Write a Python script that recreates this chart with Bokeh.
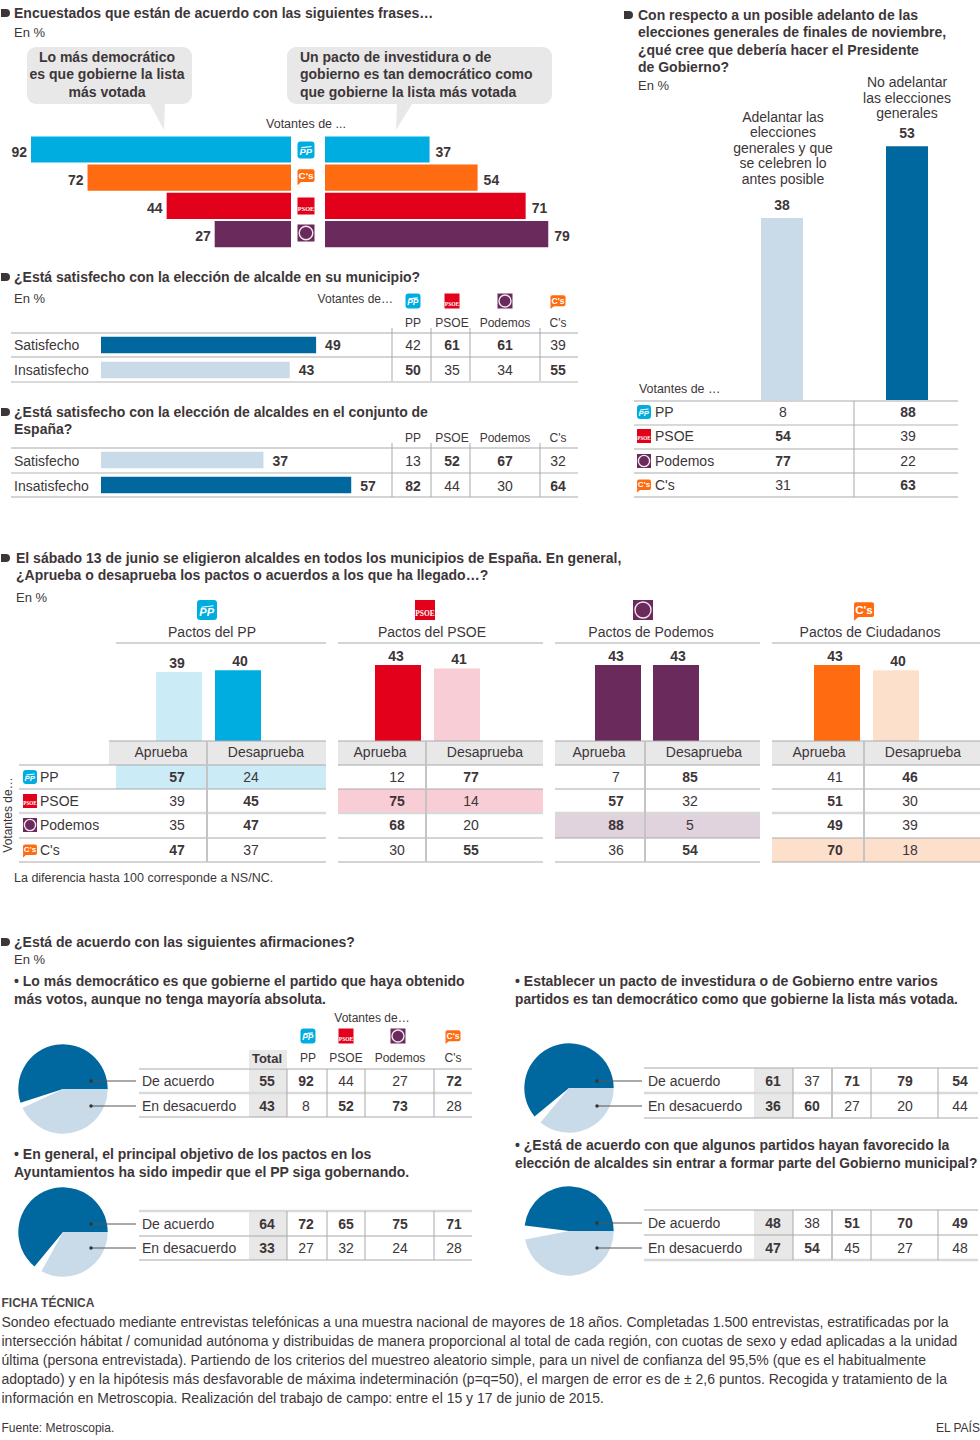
import math
from bokeh.plotting import figure
from bokeh.models import Range1d
from bokeh.core.properties import value
from bokeh.embed import file_html
from bokeh.resources import INLINE

# ---------- data ----------
butterfly_parties = ["PP", "C's", "PSOE", "Podemos"]
lista_votada = [92, 72, 44, 27]
pacto_democratico = [37, 54, 71, 79]

party_headers = ["PP", "PSOE", "Podemos", "C's"]
sat_labels = ["Satisfecho", "Insatisfecho"]
muni_totals = [49, 43]
muni_rows = [[42, 61, 61, 39], [50, 35, 34, 55]]
muni_bold = [[0, 1, 1, 0], [1, 0, 0, 1]]
spain_totals = [37, 57]
spain_rows = [[13, 52, 67, 32], [82, 44, 30, 64]]
spain_bold = [[0, 1, 1, 0], [1, 0, 0, 1]]

adelanto_totals = [38, 53]
adelanto_rows = [[8, 88], [54, 39], [77, 22], [31, 63]]
adelanto_bold = [[0, 1], [1, 0], [1, 0], [0, 1]]

pact_titles = ["Pactos del PP", "Pactos del PSOE", "Pactos de Podemos", "Pactos de Ciudadanos"]
pact_cols = ["Aprueba", "Desaprueba"]
pact_totals = [[39, 40], [43, 41], [43, 43], [43, 40]]
pact_rows = [
    [[57, 24], [39, 45], [35, 47], [47, 37]],
    [[12, 77], [75, 14], [68, 20], [30, 55]],
    [[7, 85], [57, 32], [88, 5], [36, 54]],
    [[41, 46], [51, 30], [49, 39], [70, 18]],
]
pact_bold = [
    [[1, 0], [0, 1], [0, 1], [1, 0]],
    [[0, 1], [1, 0], [1, 0], [0, 1]],
    [[0, 1], [1, 0], [1, 0], [0, 1]],
    [[0, 1], [1, 0], [1, 0], [1, 0]],
]

agree_labels = ["De acuerdo", "En desacuerdo"]
q1_rows = [[55, 92, 44, 27, 72], [43, 8, 52, 73, 28]]
q1_bold = [[1, 1, 0, 0, 1], [1, 0, 1, 1, 0]]
q2_rows = [[61, 37, 71, 79, 54], [36, 60, 27, 20, 44]]
q2_bold = [[1, 0, 1, 1, 1], [1, 1, 0, 0, 0]]
q3_rows = [[64, 72, 65, 75, 71], [33, 27, 32, 24, 28]]
q3_bold = [[1, 1, 1, 1, 1], [1, 0, 0, 0, 0]]
q4_rows = [[48, 38, 51, 70, 49], [47, 54, 45, 27, 48]]
q4_bold = [[1, 0, 1, 1, 1], [1, 1, 0, 0, 0]]

ficha = [
    "Sondeo efectuado mediante entrevistas telefónicas a una muestra nacional de mayores de 18 años. Completadas 1.500 entrevistas, estratificadas por la",
    "intersección hábitat / comunidad autónoma y distribuidas de manera proporcional al total de cada región, con cuotas de sexo y edad aplicadas a la unidad",
    "última (persona entrevistada). Partiendo de los criterios del muestreo aleatorio simple, para un nivel de confianza del 95,5% (que es el habitualmente",
    "adoptado) y en la hipótesis más desfavorable de máxima indeterminación (p=q=50), el margen de error es de ± 2,6 puntos. Recogida y tratamiento de la",
    "información en Metroscopia. Realización del trabajo de campo: entre el 15 y 17 de junio de 2015.",
]

# ---------- style ----------
W, H = 980, 1440
OX, OY = 0.5, 0.5
FONT = "Liberation Sans"
TXT = "#3d3639"
C = {"PP": "#00ade1", "C's": "#ff6b10", "PSOE": "#e2001a", "Podemos": "#6a2a5b"}
LIGHT = {"PP": "#cbecf7", "C's": "#fde0cc", "PSOE": "#f9cdd6", "Podemos": "#e0d3de"}
DARK = "#00689f"
PALE = "#c9dbe9"
LINE = "#a9a9a9"
THICK = "#d9d9d9"
BAND = "#e8e8e8"

p = figure(width=W, height=H, x_range=Range1d(OX, W + OX), y_range=Range1d(H + OY, OY),
           x_axis_type=None, y_axis_type=None, toolbar_location=None,
           output_backend="svg", min_border=0, outline_line_color=None)

_n = [0]
def sx(x0, k):
    _n[0] += 1
    name = f"sx{_n[0]}"
    x0 -= OX
    p.extra_x_ranges[name] = Range1d((0 - x0) / k, (W - x0) / k)
    return name

def sy(y0, k):
    _n[0] += 1
    name = f"sy{_n[0]}"
    y0 -= OY
    p.extra_y_ranges[name] = Range1d((H - y0) / k, (0 - y0) / k)
    return name

def T(x, y, s, size=14, bold=False, align="left", color=TXT, angle=0, italic=False, font=FONT):
    style = "bold" if bold else ("italic" if italic else "normal")
    if bold and italic:
        style = "bold italic"
    p.text([x], [y], text=[s], text_font=value(font), text_font_size=f"{size}px",
           text_font_style=style, text_align=align, text_baseline="middle",
           text_color=color, angle=angle)

def hline(x0, x1, y, color=LINE, w=1):
    p.segment([x0], [y], [x1], [y], line_color=color, line_width=w)

def vline(x, y0, y1, color=LINE, w=1):
    p.segment([x], [y0], [x], [y1], line_color=color, line_width=w)

def box(l, r, t, b, color, radius=0):
    kw = {"border_radius": radius} if radius else {}
    p.quad(left=[l], right=[r], top=[t], bottom=[b], fill_color=color, line_color=None, **kw)

def bullet(x, y):
    box(x, x + 5, y - 4, y + 4, TXT)
    p.scatter([x + 5], [y], size=8, marker="circle", fill_color=TXT, line_color=None)

def logo(party, cx, cy, s=16):
    h = s / 2
    if party == "PP":
        box(cx - h, cx + h, cy - h, cy + h, C["PP"], radius=3)
        T(cx - 0.3, cy + s * 0.1, "PP", size=s * 0.55, bold=True, italic=True, align="center", color="white")
        p.segment([cx - h * 0.55], [cy - h * 0.28], [cx + h * 0.65], [cy - h * 0.42], line_color="white", line_width=1.1)
    elif party == "C's":
        box(cx - h, cx + h, cy - h * 0.78, cy + h * 0.7, C["C's"], radius=2)
        p.patch([cx - h, cx - h + s * 0.28, cx - h], [cy + h * 0.6, cy + h * 0.6, cy + h * 1.08],
                fill_color=C["C's"], line_color=None)
        T(cx, cy - h * 0.05, "C's", size=s * 0.58, bold=True, align="center", color="white")
    elif party == "PSOE":
        box(cx - h, cx + h, cy - h, cy + h, C["PSOE"])
        T(cx, cy + h * 0.35, "PSOE", size=s * 0.37, bold=True, align="center", color="white", font="Liberation Sans Narrow")
    else:
        box(cx - h, cx + h, cy - h, cy + h, C["Podemos"])
        p.scatter([cx], [cy], size=s * 0.8, marker="circle", fill_color=C["Podemos"],
                  line_color="#efe6ee", line_width=1.4)

def cells(xs, ys, rows, bold, size=14):
    for j, y in enumerate(ys):
        for i, x in enumerate(xs):
            T(x, y, str(rows[j][i]), size=size, bold=bool(bold[j][i]), align="center")

# ---------- 1. butterfly ----------
bullet(1, 13)
T(14, 13, "Encuestados que están de acuerdo con las siguientes frases…", bold=True)
T(14, 32, "En %", size=13)
box(27, 192, 47, 104, BAND, radius=9)
box(287, 552, 47, 104, BAND, radius=9)
p.patch([150, 165, 164], [104, 104, 130], fill_color=BAND, line_color=None)
p.patch([397, 412, 396], [104, 104, 130], fill_color=BAND, line_color=None)
for y, s in zip([57, 74, 92], ["Lo más democrático", "es que gobierne la lista", "más votada"]):
    T(107, y, s, bold=True, align="center")
for y, s in zip([57, 74, 92], ["Un pacto de investidura o de", "gobierno es tan democrático como", "que gobierne la lista más votada"]):
    T(300, y, s, bold=True)
T(306, 124, "Votantes de ...", size=12.5, align="center")
by = sy(149.5, 28.2)
lx = sx(291, -2.826)
rx = sx(325, 2.826)
rows_idx = list(range(len(butterfly_parties)))
colors = [C[b] for b in butterfly_parties]
p.hbar(y=rows_idx, left=0, right=lista_votada, height=0.93, fill_color=colors, line_color=None,
       x_range_name=lx, y_range_name=by)
p.hbar(y=rows_idx, left=0, right=pacto_democratico, height=0.93, fill_color=colors, line_color=None,
       x_range_name=rx, y_range_name=by)
p.text(x=lista_votada, y=rows_idx, text=[str(v) for v in lista_votada], x_range_name=lx, y_range_name=by,
       x_offset=-4, y_offset=2, text_align="right", text_baseline="middle", text_font=value(FONT),
       text_font_style="bold", text_font_size="14px", text_color=TXT)
p.text(x=pacto_democratico, y=rows_idx, text=[str(v) for v in pacto_democratico], x_range_name=rx, y_range_name=by,
       x_offset=6, y_offset=2, text_align="left", text_baseline="middle", text_font=value(FONT),
       text_font_style="bold", text_font_size="14px", text_color=TXT)
for b, y in zip(butterfly_parties, [150, 176, 206, 233]):
    logo(b, 306, y, 17)

# ---------- 2/3. satisfaction ----------
cols = [413, 452, 505, 558]
verts = [392, 431, 470, 540]
bullet(1, 277)
T(14, 277, "¿Está satisfecho con la elección de alcalde en su municipio?", bold=True)
T(14, 298, "En %", size=13)
T(393, 299, "Votantes de…", size=12, align="right")
for party, x in zip(party_headers, cols):
    logo(party, x, 301, 15)
    T(x, 323, party, size=12, align="center")
hline(11, 578, 333)
hline(11, 578, 357)
hline(11, 578, 382, THICK, 2)
for x in verts:
    vline(x, 328, 381)
sx1 = sx(101, 4.39)
sy1 = sy(345, 25)
p.hbar(y=[0, 1], left=0, right=muni_totals, height=0.66, fill_color=[DARK, PALE], line_color=None,
       x_range_name=sx1, y_range_name=sy1)
p.text(x=muni_totals, y=[0, 1], text=[str(v) for v in muni_totals], x_range_name=sx1, y_range_name=sy1,
       x_offset=9, text_align="left", text_baseline="middle", text_font=value(FONT), text_font_style="bold",
       text_font_size="14px", text_color=TXT)
for lab, y in zip(sat_labels, [345, 370]):
    T(14, y, lab)
cells(cols, [345, 370], muni_rows, muni_bold)

bullet(1, 412)
T(14, 412, "¿Está satisfecho con la elección de alcaldes en el conjunto de", bold=True)
T(14, 429, "España?", bold=True)
for party, x in zip(party_headers, cols):
    T(x, 438, party, size=12, align="center")
hline(11, 578, 448)
hline(11, 578, 473, THICK, 2)
hline(11, 578, 497)
for x in verts:
    vline(x, 443, 497)
sx2 = sx(101, 4.39)
sy2 = sy(460, 25)
p.hbar(y=[0, 1], left=0, right=spain_totals, height=0.66, fill_color=[PALE, DARK], line_color=None,
       x_range_name=sx2, y_range_name=sy2)
p.text(x=spain_totals, y=[0, 1], text=[str(v) for v in spain_totals], x_range_name=sx2, y_range_name=sy2,
       x_offset=9, y_offset=1, text_align="left", text_baseline="middle", text_font=value(FONT), text_font_style="bold",
       text_font_size="14px", text_color=TXT)
for lab, y in zip(sat_labels, [461, 486]):
    T(14, y, lab)
cells(cols, [461, 486], spain_rows, spain_bold)

# ---------- 4. adelanto ----------
bullet(624, 15)
for y, s in zip([15, 32, 50, 67], ["Con respecto a un posible adelanto de las",
                                   "elecciones generales de finales de noviembre,",
                                   "¿qué cree que debería hacer el Presidente",
                                   "de Gobierno?"]):
    T(638, y, s, bold=True)
T(638, 85, "En %", size=13)
for y, s in zip([117, 132, 148, 163, 179], ["Adelantar las", "elecciones", "generales y que", "se celebren lo", "antes posible"]):
    T(783, y, s, align="center")
for y, s in zip([82, 98, 113], ["No adelantar", "las elecciones", "generales"]):
    T(907, y, s, align="center")
ax = sx(782, 125)
ay = sy(400, -4.79)
p.vbar(x=[0, 1], bottom=0, top=adelanto_totals, width=0.336, fill_color=[PALE, DARK], line_color=None,
       x_range_name=ax, y_range_name=ay)
p.text(x=[0, 1], y=adelanto_totals, text=[str(v) for v in adelanto_totals], x_range_name=ax, y_range_name=ay,
       y_offset=-13, text_align="center", text_baseline="middle", text_font=value(FONT), text_font_style="bold",
       text_font_size="14px", text_color=TXT)
T(639, 389, "Votantes de …", size=12.4)
hline(634, 958, 401)
hline(634, 958, 425, THICK, 2)
hline(634, 958, 449)
hline(634, 958, 473)
hline(634, 958, 497)
vline(854, 401, 497)
ad_ys = [412, 436, 461, 485]
ad_party = ["PP", "PSOE", "Podemos", "C's"]
for party, y in zip(ad_party, ad_ys):
    logo(party, 644, y, 14)
    T(655, y, party)
cells([783, 908], ad_ys, adelanto_rows, adelanto_bold)

# ---------- 5. pactos ----------
bullet(1, 558)
T(16, 558, "El sábado 13 de junio se eligieron alcaldes en todos los municipios de España. En general,", bold=True)
T(16, 575, "¿Aprueba o desaprueba los pactos o acuerdos a los que ha llegado…?", bold=True)
T(16, 597, "En %", size=13)
T(8, 815, "Votantes de…", size=12, angle=math.pi / 2, align="center")
panels = [
    dict(party="PP", l=116, band_l=109, r=326, logo=207, tx=212, bar0=179, k=59, v=207, h=[161, 266], val=[177, 251], shade=[1, 0]),
    dict(party="PSOE", l=338, band_l=338, r=543, logo=425, tx=432, bar0=398, k=59, v=426, h=[380, 485], val=[397, 471], shade=[0, 1]),
    dict(party="Podemos", l=555, band_l=555, r=760, logo=643, tx=651, bar0=618, k=58, v=645, h=[599, 704], val=[616, 690], shade=[0, 0]),
    dict(party="C's", l=772, band_l=772, r=981, logo=864, tx=870, bar0=837, k=59, v=864, h=[819, 923], val=[835, 910], shade=[0, 1]),
]
row_ys = [777, 801, 825, 850]
row_lines = [765, 789, 813, 838, 862]
for i, pn in enumerate(panels):
    party = pn["party"]
    hi = ad_party.index(party)
    box(pn["l"], pn["r"], row_lines[hi], row_lines[hi + 1], LIGHT[party])
    box(pn["band_l"], pn["r"], 741, 765, BAND)
    logo(party, pn["logo"], 610, 20)
    T(pn["tx"], 632, pact_titles[i], align="center")
    hline(pn["l"], pn["r"], 643)
    bxs = sx(pn["bar0"], pn["k"])
    bys = sy(741, -1.77)
    p.vbar(x=[0, 1], bottom=0, top=pact_totals[i], width=46 / pn["k"],
           fill_color=[LIGHT[party] if f else C[party] for f in pn["shade"]], line_color=None,
           x_range_name=bxs, y_range_name=bys)
    for b_i, off in zip([0, 1], [-2, 2]):
        p.text(x=[b_i], y=[pact_totals[i][b_i]], text=[str(pact_totals[i][b_i])], x_range_name=bxs, y_range_name=bys,
               x_offset=off, y_offset=-9, text_align="center", text_baseline="middle", text_font=value(FONT),
               text_font_style="bold", text_font_size="14px", text_color=TXT)
    for name, x in zip(pact_cols, pn["h"]):
        T(x, 752, name, align="center")
    x0 = 19 if i == 0 else pn["band_l"]
    for n, y in enumerate(row_lines):
        if n == 2:
            hline(x0, pn["r"], y, THICK, 2.5)
        else:
            hline(x0, pn["r"], y)
    hline(pn["band_l"], pn["r"], 741)
    vline(pn["v"], 741, 862, "#c4c4c4", 2)
    cells(pn["val"], row_ys, pact_rows[i], pact_bold[i])
for party, y in zip(ad_party, row_ys):
    logo(party, 30, y, 14)
    T(40, y, party)
T(14, 878, "La diferencia hasta 100 corresponde a NS/NC.", size=12.5)

# ---------- 6. pies and tables ----------
bullet(1, 942)
T(14, 942, "¿Está de acuerdo con las siguientes afirmaciones?", bold=True)
T(14, 959, "En %", size=13)
for y, s in zip([981, 999], ["• Lo más democrático es que gobierne el partido que haya obtenido",
                             "más votos, aunque no tenga mayoría absoluta."]):
    T(14, y, s, bold=True)
T(515, 981, "• Establecer un pacto de investidura o de Gobierno entre varios", bold=True)
T(515, 999, "partidos es tan democrático como que gobierne la lista más votada.", bold=True, size=13.72)
for y, s in zip([1154, 1172], ["• En general, el principal objetivo de los pactos en los",
                               "Ayuntamientos ha sido impedir que el PP siga gobernando."]):
    T(14, y, s, bold=True)
T(515, 1145, "• ¿Está de acuerdo con que algunos partidos hayan favorecido la", bold=True)
T(515, 1163, "elección de alcaldes sin entrar a formar parte del Gobierno municipal?", bold=True, size=13.8)

def pie_table(cx, cy, rows, bold, table_l, table_r, band, cols5, verts4, lines, thick, ys, label_x, vthick=None):
    agree, dis = rows[0][0], rows[1][0]
    a_end = agree * 3.6
    d_start = 360 - dis * 3.6
    r = 44.7
    p.wedge([cx], [cy], radius=r, start_angle=[0], end_angle=[math.radians(a_end)],
            direction="anticlock", fill_color=DARK, line_color=None)
    p.wedge([cx], [cy], radius=r, start_angle=[math.radians(d_start)], end_angle=[math.radians(360)],
            direction="anticlock", fill_color=PALE, line_color=None)
    box(band[0], band[1], lines[0], lines[2], BAND)
    for n, y in enumerate(lines):
        if n == thick:
            hline(table_l, table_r, y, THICK, 2.5)
        else:
            hline(table_l, table_r, y)
    for x in verts4:
        vline(x, lines[0], lines[2], "#c4c4c4" if x == vthick else LINE, 2 if x == vthick else 1)
    for lab, y in zip(agree_labels, ys):
        T(label_x, y, lab)
    cells(cols5, ys, rows, bold)
    for y in ys:
        p.segment([cx + 28], [y], [label_x - 6], [y], line_color="#555555", line_width=1)
        p.scatter([cx + 28], [y], size=3.5, marker="circle", fill_color="#333333", line_color=None)

lcols = [267, 306, 346, 400, 454]
lverts = [287, 327, 365, 434]
rcols = [773, 812, 852, 905, 960]
rverts = [793, 832, 871, 938]

T(372, 1018, "Votantes de…", size=12, align="center")
box(249, 287, 1050, 1068, BAND)
T(267, 1058, "Total", size=13, bold=True, align="center")
for party, x, hx in zip(party_headers, [308, 346, 398, 453], [308, 346, 400, 453]):
    logo(party, x, 1036, 15)
    T(hx, 1058, party, size=12, align="center")
pie_table(63, 1089, q1_rows, q1_bold, 139, 472, (249, 287), lcols, lverts, [1069, 1093, 1117], 1, [1081, 1106], 142)
pie_table(569, 1088, q2_rows, q2_bold, 644, 978, (754, 793), rcols, rverts, [1068, 1093, 1118], 1, [1081, 1106], 648, 832)
pie_table(63, 1232, q3_rows, q3_bold, 139, 472, (249, 287), lcols, lverts, [1211, 1236, 1260], 0, [1224, 1248], 142)
pie_table(569, 1231, q4_rows, q4_bold, 644, 978, (754, 793), rcols, rverts, [1210, 1235, 1260], 2, [1223, 1248], 648, 832)

# ---------- footer ----------
T(1.5, 1303, "FICHA TÉCNICA", size=12, bold=True, color="#4a4547")
for y, s in zip([1322, 1341, 1360, 1379, 1398], ficha):
    T(1.5, y, s)
T(1.5, 1428, "Fuente: Metroscopia.", size=12)
T(980.4, 1428, "EL PAÍS", size=12, align="right")

open("out.html", "w").write(file_html(p, INLINE))
